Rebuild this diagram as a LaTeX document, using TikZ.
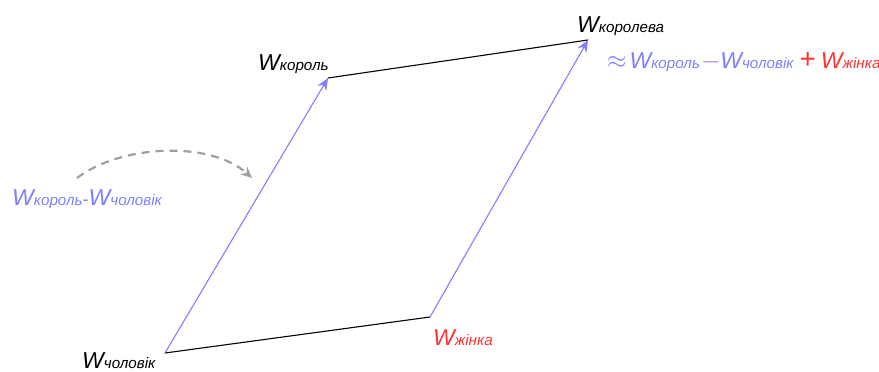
\documentclass[tikz,border=0pt]{standalone}
\usepackage{fontspec}
\setmainfont{Liberation Sans}
\usepackage{tikz}
\usetikzlibrary{arrows.meta,positioning}

\definecolor{vecblue}{HTML}{7F7FFF}
\definecolor{vecred}{HTML}{FF3333}
\definecolor{arcgray}{HTML}{A0A0A0}

% word vector: big italic W with a small index on the same baseline
\newcommand{\wvec}[1]{{\fontsize{23}{23}\selectfont\itshape W}{\fontsize{15.2}{15.2}\selectfont\itshape #1}}

\begin{document}
\begin{tikzpicture}[x=1pt, y=-1pt, >={Stealth[length=12pt,width=10pt]}, line cap=round,
    vecline/.style={draw=vecblue, line width=1.1pt},
    sideline/.style={draw=black, line width=1.1pt},
    lbl/.style={anchor=base west, inner sep=0pt}]
  \useasboundingbox (0,0) rectangle (879,372);

  % corners of the parallelogram
  \coordinate (man) at (165,353);
  \coordinate (king) at (328,78);
  \coordinate (woman) at (430,317);
  \coordinate (queen) at (588,40);

  % gender offset (blue) and royalty offset (black)
  \draw[sideline] (man) -- (woman);
  \draw[sideline] (king) -- (queen);
  \draw[vecline, ->] (man) -- (king);
  \draw[vecline, ->] (woman) -- (queen);

  % labels at the corners
  \node[lbl] (manlbl) at (82,368) {\wvec{чоловік}};
  \node[lbl] (kinglbl) at (258,70) {\wvec{король}};
  \node[lbl, text=vecred] (womanlbl) at (433,345) {\wvec{жінка}};
  \node[lbl] (queenlbl) at (577,32) {\wvec{королева}};
  \node[lbl] (approx) at (607,68) {{\color{vecblue}\fontsize{28}{28}\selectfont$\approx$\hspace{3pt}\wvec{король}\hspace{1pt}{\fontsize{26}{26}\selectfont$-$}\wvec{чоловік}}\hspace{6pt}{\color{vecred}{\fontsize{28}{28}\selectfont+}\hspace{5pt}\wvec{жінка}}};

  % difference vector moved onto the parallel side
  \node[lbl, text=vecblue] (difflbl) at (12,205) {\wvec{король}{\fontsize{18}{18}\selectfont-}\wvec{чоловік}};
  \coordinate (arcstart) at (77,178);
  \coordinate (arcend) at (252,178);
  \draw[arcgray, line width=2.2pt, dash pattern=on 8pt off 6pt, line cap=butt, ->, >={Stealth[length=11pt,width=10pt]}]
    (arcstart) .. controls (120,145) and (210,140) .. (arcend);
\end{tikzpicture}
\end{document}
